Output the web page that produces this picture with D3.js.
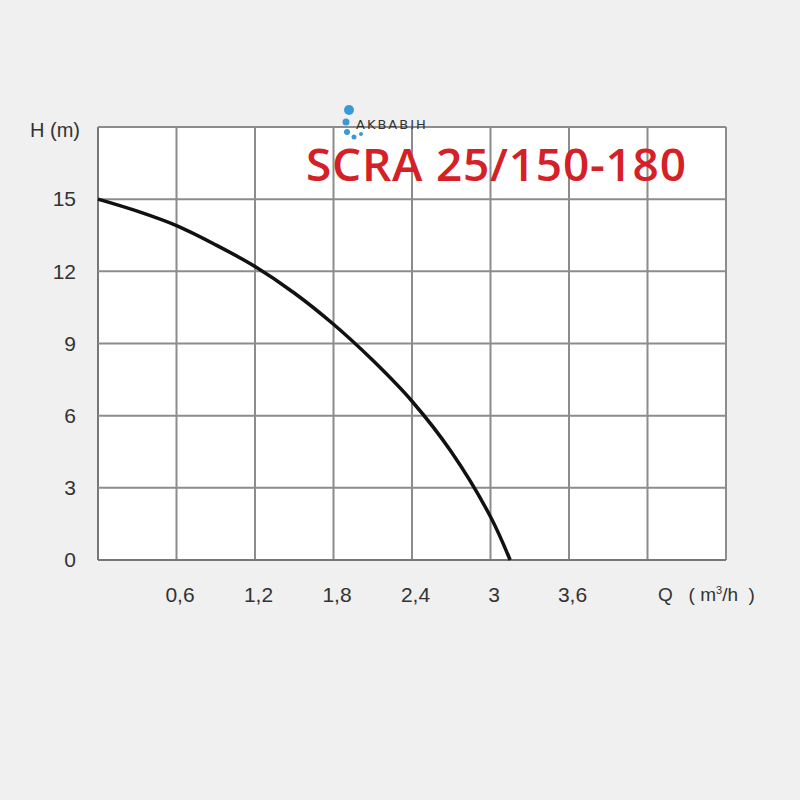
<!DOCTYPE html>
<html>
<head>
<meta charset="utf-8">
<script src="https://cdn.jsdelivr.net/npm/d3@7"></script>
<style>
  body { margin: 0; background: #f0f0f0; }
  svg { display: block; }
</style>
</head>
<body>
<script>
// pump curve values
var flow = [0, 0.3, 0.6, 0.9, 1.2, 1.5, 1.8, 2.1, 2.4, 2.7, 3.0, 3.15];
var head = [15, 14.5, 13.9, 13.1, 12.2, 11.1, 9.8, 8.3, 6.6, 4.5, 1.8, 0];
var xTicks = [0.6, 1.2, 1.8, 2.4, 3, 3.6];
var xGrid = [0, 0.6, 1.2, 1.8, 2.4, 3, 3.6, 4.2, 4.8];
var yTicks = [0, 3, 6, 9, 12, 15];
var yGrid = [0, 3, 6, 9, 12, 15, 18];

var width = 800, height = 800;
var margin = {top: 127, right: 74, bottom: 240, left: 98};

var svg = d3.select("body").append("svg")
  .attr("width", width)
  .attr("height", height);

svg.append("rect")
  .attr("width", width).attr("height", height)
  .attr("fill", "#f0f0f0");

var x = d3.scaleLinear()
  .domain([0, 4.8])
  .range([margin.left, width - margin.right]);

var y = d3.scaleLinear()
  .domain([0, 18])
  .range([height - margin.bottom, margin.top]);

var tickFmt = function(d) { return String(d).replace(".", ","); };

// plot area
svg.append("rect")
  .attr("x", x(0)).attr("y", y(18))
  .attr("width", x(4.8) - x(0))
  .attr("height", y(0) - y(18))
  .attr("fill", "#ffffff");

// grid lines
svg.append("g").selectAll("line")
  .data(xGrid)
  .enter().append("line")
  .attr("x1", function(d) { return x(d); })
  .attr("x2", function(d) { return x(d); })
  .attr("y1", y(0)).attr("y2", y(18))
  .attr("stroke", function(d) { return d == 0 ? "#777" : "#8c8c8c"; })
  .attr("stroke-width", 2);

svg.append("g").selectAll("line")
  .data(yGrid)
  .enter().append("line")
  .attr("x1", x(0)).attr("x2", x(4.8))
  .attr("y1", function(d) { return y(d); })
  .attr("y2", function(d) { return y(d); })
  .attr("stroke", function(d) { return d == 0 ? "#777" : "#8c8c8c"; })
  .attr("stroke-width", 2);

// y axis labels
var yAxis = d3.axisLeft(y).tickValues(yTicks).tickSize(0).tickPadding(22);
var gY = svg.append("g")
  .attr("transform", "translate(" + x(0) + ",0)")
  .call(yAxis);
gY.select(".domain").remove();
gY.selectAll("text")
  .attr("font-family", "'Liberation Sans', Arial, sans-serif")
  .attr("font-size", 21)
  .attr("fill", "#333");

// x axis labels
var xAxis = d3.axisBottom(x).tickValues(xTicks).tickSize(0).tickPadding(27).tickFormat(tickFmt);
var gX = svg.append("g")
  .attr("transform", "translate(3," + y(0) + ")")
  .call(xAxis);
gX.select(".domain").remove();
gX.selectAll("text")
  .attr("font-family", "'Liberation Sans', Arial, sans-serif")
  .attr("font-size", 21)
  .attr("fill", "#333");

// axis titles
svg.append("text")
  .attr("x", 30).attr("y", 137)
  .attr("font-family", "'Liberation Sans', Arial, sans-serif")
  .attr("font-size", 20)
  .attr("fill", "#333")
  .text("H (m)");

var qt = svg.append("text")
  .attr("x", 658).attr("y", 601)
  .attr("font-family", "'Liberation Sans', Arial, sans-serif")
  .attr("font-size", 19)
  .attr("fill", "#333")
  .style("white-space", "pre");
qt.append("tspan").text("Q   ( m");
qt.append("tspan").attr("dy", -7).attr("font-size", 11).text("3");
qt.append("tspan").attr("dy", 7).text("/h  )");

// pump curve
var points = flow.map(function(q, i) { return [q, head[i]]; });
var line = d3.line()
  .x(function(d) { return x(d[0]); })
  .y(function(d) { return y(d[1]); })
  .curve(d3.curveCatmullRom);

svg.append("path")
  .datum(points)
  .attr("d", line)
  .attr("fill", "none")
  .attr("stroke", "#111")
  .attr("stroke-width", 3.5);

// title
svg.append("text")
  .attr("x", 306).attr("y", 181)
  .attr("font-family", "'Open Sans', sans-serif")
  .attr("font-weight", 600)
  .attr("font-size", 46)
  .attr("fill", "#d42026")
  .attr("textLength", 380)
  .text("SCRA 25/150-180");

// little watermark logo
var logo = svg.append("g");
[[349, 110, 5], [346, 122, 3.5], [347, 132, 3], [354, 137, 2.5], [361, 134, 2]].forEach(function(c) {
  logo.append("circle")
    .attr("cx", c[0]).attr("cy", c[1]).attr("r", c[2])
    .attr("fill", "#3a9ad9");
});
logo.append("text")
  .attr("x", 356).attr("y", 129)
  .attr("font-family", "'DejaVu Sans', sans-serif")
  .attr("font-size", 13)
  .attr("letter-spacing", 2)
  .attr("fill", "#333")
  .text("AKBABIH");
</script>
</body>
</html>
